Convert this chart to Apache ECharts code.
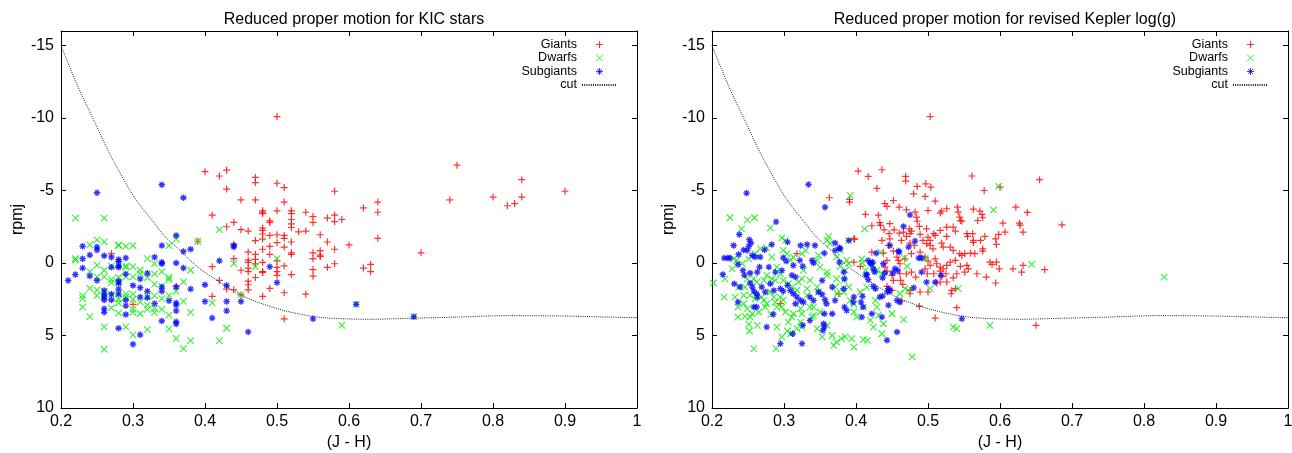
<!DOCTYPE html>
<html>
<head>
<meta charset="utf-8">
<title>Reduced proper motion</title>
<script src="https://cdn.jsdelivr.net/npm/echarts@6/dist/echarts.min.js"></script>
<style>
  html, body { margin: 0; padding: 0; background: #fff; }
  #chart { width: 1292px; height: 453px; }
</style>
</head>
<body>
<div id="chart"></div>
<script>
// tick labels
const xTicks = [0.2, 0.3, 0.4, 0.5, 0.6, 0.7, 0.8, 0.9, 1];
const yTicks = [-15, -10, -5, 0, 5, 10];

// cut curve
const cutX = [0.2, 0.224, 0.246, 0.267, 0.29, 0.305, 0.327, 0.345, 0.368, 0.379, 0.393, 0.41, 0.425, 0.448, 0.472, 0.509, 0.54, 0.564, 0.6, 0.63, 0.68, 0.75, 0.82, 0.89, 0.95, 1.0];
const cutY = [-15, -12.1, -9.8, -7.6, -5.5, -4.3, -2.9, -1.8, -0.75, -0.2, 0.4, 0.97, 1.45, 2.15, 2.68, 3.27, 3.6, 3.77, 3.86, 3.88, 3.82, 3.73, 3.63, 3.65, 3.72, 3.77];

// left panel: KIC stars  [J-H, rpmj]
const kicGiants = [[0.50,-10.1],[0.40,-6.3],[0.42,-6.0],[0.43,-6.4],[0.43,-5.1],[0.45,-4.35],[0.47,-4.35],[0.47,-5.9],[0.47,-5.55],[0.50,-5.5],[0.51,-5.2],[0.51,-4.2],[0.50,-3.6],[0.41,-3.3],[0.48,-3.6],[0.48,-3.4],[0.48,-3.5],[0.52,-3.6],[0.52,-3.4],[0.54,-3.5],[0.55,-3.2],[0.55,-2.8],[0.57,-3.1],[0.58,-3.3],[0.59,-3.0],[0.58,-2.85],[0.58,-4.95],[0.49,-2.9],[0.49,-2.8],[0.52,-3.0],[0.52,-2.7],[0.52,-2.45],[0.44,-2.8],[0.43,-2.5],[0.45,-2.3],[0.46,-2.2],[0.48,-2.4],[0.48,-2.25],[0.53,-2.15],[0.54,-2.2],[0.47,-1.55],[0.48,-2.0],[0.48,-1.65],[0.49,-1.9],[0.50,-1.95],[0.51,-1.9],[0.51,-1.7],[0.52,-1.45],[0.56,-1.95],[0.57,-1.45],[0.60,-1.25],[0.62,-3.8],[0.64,-4.2],[0.64,-3.5],[0.64,-1.7],[0.44,-1.3],[0.49,-1.15],[0.50,-1.4],[0.51,-1.1],[0.48,-0.95],[0.46,-0.75],[0.47,-0.6],[0.49,-0.6],[0.52,-0.7],[0.52,-0.6],[0.55,-0.7],[0.56,-0.85],[0.56,-0.55],[0.58,-0.95],[0.70,-0.7],[0.75,-6.75],[0.74,-4.35],[0.80,-4.55],[0.82,-3.95],[0.83,-4.1],[0.84,-5.75],[0.84,-4.55],[0.90,-4.95],[0.44,-0.3],[0.46,-0.2],[0.46,-0.05],[0.47,-0.25],[0.47,0.05],[0.48,-0.05],[0.50,-0.15],[0.55,-0.3],[0.56,-0.45],[0.41,0.25],[0.45,0.5],[0.46,0.35],[0.46,0.6],[0.48,0.6],[0.48,0.65],[0.50,0.3],[0.50,0.6],[0.50,0.85],[0.51,0.2],[0.55,0.45],[0.55,0.9],[0.57,0.3],[0.58,0.05],[0.62,0.35],[0.63,0.1],[0.63,0.6],[0.42,1.2],[0.47,1.0],[0.46,1.25],[0.46,1.5],[0.46,1.85],[0.52,0.8],[0.49,1.75],[0.43,1.8],[0.44,1.85],[0.41,2.3],[0.48,2.3],[0.51,2.05],[0.54,2.15],[0.51,3.85],[0.36,1.6],[0.30,2.85],[0.27,-0.65],[0.39,-1.5],[0.45,2.2]];
const kicDwarfs = [[0.22,-3.1],[0.26,-3.1],[0.42,-2.3],[0.39,-1.5],[0.36,-1.65],[0.35,-1.2],[0.25,-1.6],[0.26,-1.45],[0.28,-1.2],[0.28,-1.25],[0.29,-1.15],[0.30,-1.2],[0.24,-1.25],[0.22,-0.3],[0.22,-0.2],[0.25,0.15],[0.26,0.5],[0.27,0.2],[0.28,0.05],[0.29,0.2],[0.29,0.3],[0.30,0.25],[0.32,-0.3],[0.31,0.5],[0.33,0.05],[0.34,0.6],[0.35,1.0],[0.37,1.3],[0.38,0.5],[0.50,-0.3],[0.47,0.25],[0.44,0.05],[0.24,0.6],[0.25,0.95],[0.26,0.95],[0.27,1.15],[0.27,1.35],[0.28,1.0],[0.28,1.35],[0.29,0.95],[0.30,0.95],[0.31,0.75],[0.32,1.0],[0.33,0.75],[0.33,1.45],[0.34,1.6],[0.35,1.15],[0.36,1.95],[0.24,1.75],[0.23,2.25],[0.23,2.45],[0.25,1.85],[0.25,2.25],[0.26,1.95],[0.26,2.3],[0.27,2.2],[0.28,2.1],[0.28,2.5],[0.29,2.15],[0.29,2.35],[0.30,2.15],[0.30,2.5],[0.31,2.7],[0.32,2.3],[0.32,2.9],[0.33,2.25],[0.33,3.15],[0.34,2.45],[0.35,2.25],[0.37,2.65],[0.41,2.75],[0.23,3.05],[0.27,3.1],[0.28,2.75],[0.30,3.2],[0.30,3.4],[0.31,3.5],[0.32,3.2],[0.33,3.4],[0.34,3.2],[0.35,3.6],[0.38,3.4],[0.24,3.7],[0.28,3.45],[0.29,4.4],[0.26,4.4],[0.30,4.95],[0.32,4.6],[0.35,4.55],[0.36,5.2],[0.38,5.35],[0.37,5.9],[0.26,5.95],[0.42,5.35],[0.43,4.5],[0.45,2.2],[0.59,4.3],[0.61,2.85],[0.69,3.7]];
const kicSubgiants = [[0.25,-4.85],[0.34,-5.4],[0.37,-4.5],[0.36,-1.9],[0.34,-1.2],[0.38,-0.95],[0.37,-0.8],[0.23,-1.15],[0.25,-1.1],[0.25,-0.9],[0.24,-0.55],[0.26,-0.5],[0.27,-0.4],[0.28,-0.25],[0.28,-0.1],[0.29,-0.35],[0.23,-0.3],[0.33,-0.4],[0.34,-0.05],[0.34,0.05],[0.36,0.0],[0.42,-0.15],[0.44,-1.1],[0.44,-1.2],[0.23,0.35],[0.27,0.3],[0.28,0.2],[0.28,0.3],[0.29,0.75],[0.37,0.35],[0.49,0.25],[0.22,0.8],[0.24,0.9],[0.21,1.2],[0.25,1.2],[0.28,1.25],[0.28,1.4],[0.31,1.1],[0.32,0.7],[0.30,1.55],[0.26,1.9],[0.26,2.2],[0.26,2.35],[0.26,2.55],[0.27,2.15],[0.27,2.55],[0.28,1.8],[0.28,2.15],[0.29,2.55],[0.31,1.7],[0.31,2.35],[0.32,1.95],[0.32,2.4],[0.34,1.65],[0.34,1.95],[0.36,1.65],[0.38,1.8],[0.40,1.5],[0.50,1.35],[0.43,1.55],[0.33,2.8],[0.35,2.6],[0.36,2.75],[0.36,2.9],[0.40,2.65],[0.43,2.65],[0.45,2.65],[0.26,3.15],[0.26,3.4],[0.29,2.95],[0.36,3.3],[0.43,3.3],[0.29,3.55],[0.34,4.0],[0.36,4.05],[0.36,4.2],[0.41,3.8],[0.55,3.85],[0.28,4.5],[0.31,4.95],[0.30,5.6],[0.46,4.75],[0.61,2.85],[0.69,3.7]];

// right panel: revised Kepler log(g)
const revGiants = [[0.503,-10.1],[0.403,-6.34],[0.436,-6.43],[0.417,-5.97],[0.469,-5.97],[0.469,-5.65],[0.561,-6.0],[0.655,-5.75],[0.429,-5.14],[0.497,-5.46],[0.504,-5.23],[0.485,-5.28],[0.48,-4.77],[0.496,-4.59],[0.51,-4.27],[0.578,-5.0],[0.6,-5.23],[0.44,-4.1],[0.443,-3.9],[0.452,-4.31],[0.46,-3.85],[0.47,-3.67],[0.482,-3.51],[0.484,-3.16],[0.5,-3.62],[0.517,-3.44],[0.519,-3.58],[0.526,-3.74],[0.541,-3.85],[0.542,-3.51],[0.544,-3.16],[0.545,-2.93],[0.563,-3.71],[0.572,-3.58],[0.575,-3.35],[0.576,-3.12],[0.569,-2.93],[0.622,-3.85],[0.638,-3.49],[0.627,-2.75],[0.628,-2.61],[0.686,-2.63],[0.632,-2.13],[0.604,-2.75],[0.607,-2.13],[0.413,-3.35],[0.431,-3.3],[0.422,-2.57],[0.433,-2.79],[0.434,-2.59],[0.439,-2.29],[0.446,-2.02],[0.453,-2.29],[0.46,-2.06],[0.474,-2.36],[0.477,-2.2],[0.475,-2.02],[0.485,-2.88],[0.488,-2.52],[0.498,-2.36],[0.508,-2.02],[0.489,-1.97],[0.5,-1.79],[0.503,-1.56],[0.51,-1.9],[0.517,-2.25],[0.526,-2.48],[0.535,-2.48],[0.538,-2.2],[0.526,-1.83],[0.547,-2.88],[0.554,-2.02],[0.555,-1.83],[0.562,-2.02],[0.563,-1.56],[0.563,-1.42],[0.573,-1.56],[0.576,-0.98],[0.579,-1.83],[0.594,-1.67],[0.595,-1.28],[0.598,-1.97],[0.397,-1.67],[0.436,-1.56],[0.447,-1.67],[0.463,-1.56],[0.47,-1.83],[0.475,-1.37],[0.481,-1.21],[0.493,-1.56],[0.498,-1.33],[0.503,-1.21],[0.507,-0.98],[0.519,-1.37],[0.521,-1.1],[0.531,-1.1],[0.535,-0.87],[0.544,-0.64],[0.547,-0.52],[0.551,-0.64],[0.559,-0.68],[0.565,-0.64],[0.576,-0.82],[0.586,-0.06],[0.595,-0.06],[0.589,0.1],[0.599,0.4],[0.618,0.4],[0.63,0.63],[0.632,0.17],[0.662,0.46],[0.422,-0.75],[0.438,-0.68],[0.445,-1.21],[0.452,-0.82],[0.457,-0.41],[0.459,-0.18],[0.461,0.05],[0.468,-0.29],[0.477,-0.64],[0.489,-0.75],[0.496,-0.41],[0.5,-0.13],[0.503,0.17],[0.51,-0.29],[0.512,0.05],[0.517,0.28],[0.521,0.4],[0.526,0.17],[0.531,-0.06],[0.538,-0.18],[0.545,0.23],[0.554,0.17],[0.556,0.4],[0.568,0.74],[0.397,-0.06],[0.44,0.28],[0.443,0.56],[0.45,0.85],[0.47,0.74],[0.477,0.63],[0.483,0.97],[0.496,0.4],[0.499,0.74],[0.508,0.74],[0.517,0.56],[0.519,0.92],[0.525,0.74],[0.535,1.02],[0.54,0.74],[0.551,0.63],[0.581,0.97],[0.594,1.38],[0.443,1.61],[0.45,1.89],[0.452,1.2],[0.462,1.2],[0.465,1.48],[0.475,1.89],[0.475,2.12],[0.489,2.0],[0.5,2.0],[0.512,1.38],[0.517,1.31],[0.526,1.31],[0.533,1.89],[0.538,1.77],[0.532,2.12],[0.463,2.62],[0.488,2.99],[0.54,3.08],[0.51,3.8],[0.65,4.3],[0.363,-4.5],[0.391,-4.38],[0.391,-4.2],[0.398,-1.65],[0.295,2.8],[0.318,-0.64],[0.376,2.12],[0.406,0.23],[0.443,-0.18],[0.461,0.74],[0.447,-2.71],[0.466,-2.13]];
const revDwarfs = [[0.225,-3.12],[0.249,-2.98],[0.259,-3.12],[0.241,-2.36],[0.281,-2.43],[0.392,-4.65],[0.412,-2.36],[0.362,-1.84],[0.39,-1.56],[0.202,1.38],[0.217,2.35],[0.228,0.4],[0.23,-0.29],[0.234,-0.18],[0.218,1.09],[0.237,1.66],[0.232,2.35],[0.236,3.04],[0.244,2.23],[0.246,3.68],[0.251,4.23],[0.252,4.69],[0.258,5.91],[0.263,4.3],[0.282,3.54],[0.29,4.42],[0.289,5.91],[0.297,5.1],[0.306,4.07],[0.305,4.69],[0.309,4.88],[0.318,4.53],[0.323,4.07],[0.339,3.73],[0.346,4.53],[0.36,4.3],[0.353,5.1],[0.369,5.68],[0.373,5.45],[0.38,5.22],[0.394,5.22],[0.397,5.8],[0.41,5.29],[0.416,5.33],[0.424,4.42],[0.436,4.88],[0.478,6.48],[0.535,4.42],[0.54,4.53],[0.586,4.3],[0.542,1.77],[0.503,1.77],[0.467,-0.36],[0.471,0.23],[0.408,-0.29],[0.409,0.0],[0.413,0.51],[0.496,-0.34],[0.591,-3.67],[0.598,-5.28],[0.387,-0.18],[0.39,0.05],[0.385,0.51],[0.378,0.23],[0.383,1.2],[0.373,1.09],[0.371,1.66],[0.374,2.12],[0.383,2.0],[0.39,1.66],[0.392,2.58],[0.397,2.81],[0.397,3.38],[0.401,3.73],[0.41,3.04],[0.427,2.58],[0.429,3.04],[0.431,3.61],[0.42,3.96],[0.438,4.19],[0.45,3.5],[0.461,2.12],[0.468,1.77],[0.473,1.89],[0.434,-0.75],[0.424,0.17],[0.429,0.51],[0.436,0.74],[0.415,1.66],[0.406,2.0],[0.346,-0.18],[0.35,0.28],[0.36,0.63],[0.36,0.85],[0.327,0.51],[0.336,1.2],[0.346,1.66],[0.348,2.0],[0.332,1.77],[0.332,2.23],[0.336,3.04],[0.341,3.04],[0.35,3.38],[0.341,3.61],[0.323,3.15],[0.325,3.5],[0.313,3.5],[0.311,3.73],[0.297,3.04],[0.302,3.38],[0.288,2.7],[0.29,3.04],[0.276,2.81],[0.274,3.04],[0.269,2.35],[0.272,2.58],[0.265,3.38],[0.256,3.5],[0.253,3.73],[0.249,3.15],[0.244,2.81],[0.236,3.73],[0.29,0.28],[0.295,0.74],[0.283,1.09],[0.288,1.2],[0.276,0.85],[0.272,1.2],[0.299,1.2],[0.306,1.43],[0.311,1.66],[0.318,1.89],[0.295,2.35],[0.299,2.58],[0.32,1.32],[0.325,1.09],[0.258,1.09],[0.262,1.32],[0.249,1.09],[0.246,1.66],[0.253,2.23],[0.26,2.47],[0.281,2.0],[0.286,2.35],[0.299,-0.87],[0.304,-0.64],[0.309,-0.18],[0.313,-0.41],[0.325,-0.64],[0.33,-0.87],[0.283,-0.41],[0.297,-1.74],[0.302,-1.56],[0.36,-1.56],[0.364,-1.33],[0.348,-0.52],[0.276,-1.05],[0.267,-0.98],[0.26,-0.64],[0.251,-0.29],[0.242,0.05],[0.373,-0.41],[0.378,-0.87],[0.466,3.91],[0.644,0.1],[0.828,0.97],[0.325,4.42],[0.367,5.0],[0.385,5.1]];
const revSubgiants = [[0.248,-4.82],[0.334,-5.42],[0.357,-3.85],[0.289,-2.84],[0.238,-1.97],[0.252,-1.61],[0.254,-1.38],[0.251,-1.15],[0.249,-0.87],[0.23,-1.21],[0.217,-0.34],[0.222,-0.34],[0.225,-0.34],[0.215,0.79],[0.237,-0.59],[0.244,-0.9],[0.256,-0.52],[0.26,-0.41],[0.267,-0.41],[0.273,-0.91],[0.283,-1.28],[0.305,-1.44],[0.323,-1.21],[0.332,-1.28],[0.343,-1.21],[0.371,-1.38],[0.377,-1.05],[0.39,-1.56],[0.383,0.63],[0.341,0.0],[0.356,-0.68],[0.339,-0.18],[0.299,-0.36],[0.303,-0.13],[0.313,0.17],[0.322,-0.18],[0.326,0.23],[0.311,0.85],[0.316,0.97],[0.297,0.51],[0.288,0.63],[0.279,0.28],[0.266,0.28],[0.263,0.63],[0.253,0.69],[0.243,0.51],[0.245,0.85],[0.236,0.1],[0.231,1.43],[0.239,1.66],[0.253,1.38],[0.256,1.66],[0.258,1.94],[0.262,2.12],[0.263,2.35],[0.269,1.66],[0.274,2.0],[0.281,1.43],[0.286,1.89],[0.295,1.77],[0.299,1.94],[0.305,1.54],[0.309,1.89],[0.313,2.12],[0.318,2.35],[0.323,2.58],[0.327,2.7],[0.316,2.81],[0.336,2.35],[0.341,2.58],[0.348,2.0],[0.353,2.17],[0.357,2.53],[0.359,2.81],[0.356,3.5],[0.355,4.19],[0.356,4.42],[0.354,4.65],[0.336,3.96],[0.326,4.3],[0.371,2.58],[0.367,3.5],[0.384,3.04],[0.387,3.27],[0.397,2.35],[0.396,2.7],[0.409,2.3],[0.41,3.04],[0.408,3.73],[0.422,3.5],[0.436,3.73],[0.443,5.33],[0.457,4.76],[0.424,1.61],[0.427,1.77],[0.415,0.79],[0.417,-0.18],[0.42,0.0],[0.428,-0.68],[0.447,-1.21],[0.459,-0.82],[0.466,-2.52],[0.475,-3.32],[0.487,-0.34],[0.491,-0.34],[0.491,0.63],[0.498,1.32],[0.51,1.32],[0.518,0.85],[0.547,3.84],[0.437,1.02],[0.445,1.77],[0.444,2.0],[0.457,2.58],[0.461,2.7],[0.445,2.92],[0.295,5.56],[0.325,5.56],[0.276,4.42],[0.285,3.54],[0.258,3.04],[0.262,3.04],[0.236,2.7],[0.312,4.88],[0.371,-0.87],[0.377,-0.06],[0.353,1.2],[0.367,1.66],[0.482,-1.51],[0.473,-1.1],[0.46,-0.75],[0.438,0.05],[0.454,0.4],[0.458,0.51],[0.44,0.69],[0.424,0.4],[0.426,0.62],[0.414,0.85],[0.417,1.15],[0.451,0.69],[0.48,1.71],[0.447,1.89],[0.437,2.28],[0.433,2.35],[0.407,2.7],[0.383,1.77],[0.384,1.09],[0.378,-0.98],[0.423,-0.06],[0.421,0.05]];

const FONT = '"Liberation Sans", Arial, Helvetica, sans-serif';
const PLUS = 'path://M0,5H10M5,0V10';
const CROSS = 'path://M0,0L10,10M10,0L0,10';
const STAR = 'path://M0,5H10M5,0V10M1.5,1.5L8.5,8.5M8.5,1.5L1.5,8.5';

const panels = [
  { title: 'Reduced proper motion for KIC stars', left: 61, giants: kicGiants, dwarfs: kicDwarfs, subgiants: kicSubgiants },
  { title: 'Reduced proper motion for revised Kepler log(g)', left: 712, giants: revGiants, dwarfs: revDwarfs, subgiants: revSubgiants }
];
const plotW = 576, plotTop = 31, plotH = 377;

const chart = echarts.init(document.getElementById('chart'));

const axisLine = { onZero: false, lineStyle: { color: '#000', width: 1 } };
const tickStyle = { color: '#000', width: 1 };
const labelStyle = { color: '#000', fontSize: 16, fontFamily: FONT };
const nameStyle = { color: '#000', fontSize: 16, fontFamily: FONT };

const grid = [], xAxis = [], yAxis = [], series = [], title = [], legend = [];

panels.forEach((p, i) => {
  grid.push({ left: p.left, top: plotTop, width: plotW, height: plotH, outerBoundsMode: 'none' });
  title.push({
    text: p.title, left: p.left + plotW / 2, top: 7, textAlign: 'center',
    textStyle: { fontSize: 16, fontWeight: 'normal', color: '#000', fontFamily: FONT }
  });
  xAxis.push({
    gridIndex: i, type: 'value', min: 0.2, max: 1, position: 'bottom',
    name: '(J - H)', nameLocation: 'middle', nameGap: 24, nameTextStyle: nameStyle,
    axisLine, splitLine: { show: false },
    axisTick: { inside: true, length: 5, customValues: xTicks, lineStyle: tickStyle },
    axisLabel: { customValues: xTicks, margin: 6, formatter: v => String(+(+v).toFixed(1)), ...labelStyle }
  }, {
    gridIndex: i, type: 'value', min: 0.2, max: 1, position: 'top',
    axisLine, splitLine: { show: false },
    axisTick: { inside: true, length: 5, customValues: xTicks, lineStyle: tickStyle },
    axisLabel: { show: false }
  });
  yAxis.push({
    gridIndex: i, type: 'value', min: -16, max: 10, inverse: true, position: 'left',
    name: 'rpmj', nameLocation: 'middle', nameGap: 35, nameTextStyle: nameStyle,
    axisLine, splitLine: { show: false },
    axisTick: { inside: true, length: 5, customValues: yTicks, lineStyle: tickStyle },
    axisLabel: { customValues: yTicks, margin: 7, ...labelStyle }
  }, {
    gridIndex: i, type: 'value', min: -16, max: 10, inverse: true, position: 'right',
    axisLine, splitLine: { show: false },
    axisTick: { inside: true, length: 5, customValues: yTicks, lineStyle: tickStyle },
    axisLabel: { show: false }
  });
  const ax = { xAxisIndex: 2 * i, yAxisIndex: 2 * i, animation: false, silent: true };
  series.push(
    { name: 'Giants', type: 'scatter', ...ax, data: p.giants, symbol: PLUS, symbolSize: 7,
      itemStyle: { color: '#ff0000', borderColor: '#ff0000', borderWidth: 1.2 } },
    { name: 'Dwarfs', type: 'scatter', ...ax, data: p.dwarfs, symbol: CROSS, symbolSize: 6.5,
      itemStyle: { color: '#00ee00', borderColor: '#00ee00', borderWidth: 1.1 } },
    { name: 'Subgiants', type: 'scatter', ...ax, data: p.subgiants, symbol: STAR, symbolSize: 6.5,
      itemStyle: { color: '#0000ff', borderColor: '#0000ff', borderWidth: 1.3 } },
    { name: 'cut', type: 'line', ...ax, data: cutX.map((x, k) => [x, cutY[k]]), smooth: 0.3,
      symbol: 'none', itemStyle: { color: 'rgba(0,0,0,0)', borderColor: 'rgba(0,0,0,0)' },
      lineStyle: { color: '#222', width: 1, type: [1, 1.2] } }
  );
  legend.push({
    data: ['Giants', 'Dwarfs', 'Subgiants', 'cut'],
    orient: 'vertical', align: 'right', padding: 0,
    right: 1292 - (p.left + plotW - 19), top: 38,
    itemWidth: 35, itemHeight: 7, itemGap: 0.5, selectedMode: false,
    itemStyle: { borderWidth: 1 },
    textStyle: { fontSize: 12.5, lineHeight: 12, color: '#000', fontFamily: FONT }
  });
});

chart.setOption({
  animation: false,
  backgroundColor: '#fff',
  title, legend, grid, xAxis, yAxis, series
});
</script>
</body>
</html>
